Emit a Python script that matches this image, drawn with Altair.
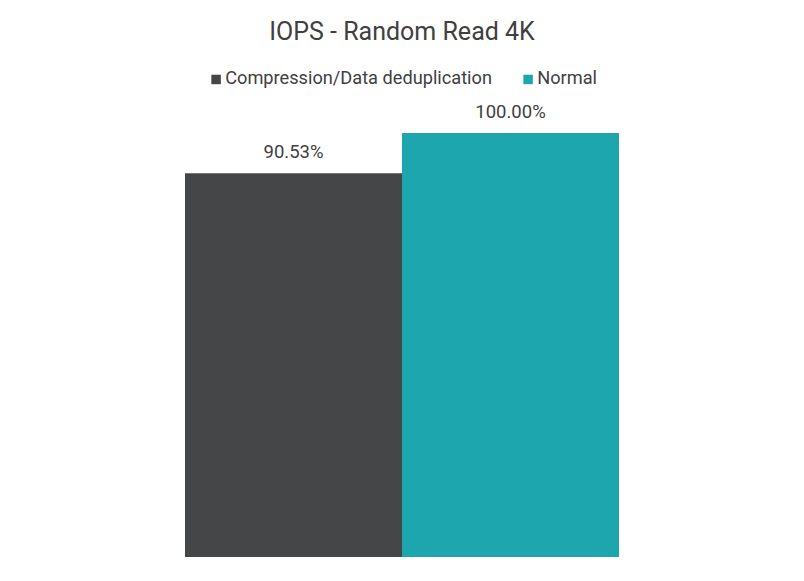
import altair as alt
import pandas as pd

categories = ["Compression/Data deduplication", "Normal"]
values = [90.53, 100.00]
labels = ["90.53%", "100.00%"]
colors = ["#454648", "#1ea6ae"]

df = pd.DataFrame({"series": categories, "value": values, "label": labels})

base = alt.Chart(df).encode(
    x=alt.X("series:N", sort=categories, axis=None,
            scale=alt.Scale(paddingInner=0, paddingOuter=0)),
    y=alt.Y("value:Q", axis=None, scale=alt.Scale(domain=[0, 100], nice=False, zero=True)),
)

bars = base.mark_bar(strokeWidth=0).encode(
    color=alt.Color("series:N", sort=categories,
                    scale=alt.Scale(domain=categories, range=colors),
                    legend=alt.Legend(
                        title=None, orient="none", direction="horizontal",
                        legendX=22, legendY=-63,
                        symbolType="square", symbolSize=90, symbolStrokeWidth=0,
                        labelFont="Roboto", labelFontSize=18.2, labelColor="#404040",
                        labelOffset=0, columnPadding=27, labelLimit=400,
                    )),
)

text = base.mark_text(font="Roboto", fontSize=18.5, color="#404040",
                      baseline="alphabetic", dy=-15).encode(
    text="label:N"
)

chart = (bars + text).properties(
    width=434,
    height=424,
    padding={"left": 177, "top": 125, "right": 177, "bottom": 8},
    autosize="none",
    title=alt.TitleParams("IOPS - Random Read 4K", font="Roboto", fontSize=25,
                          fontWeight="normal", color="#404040", anchor="middle", offset=25),
).configure_view(stroke=None)

chart.save("out.html", embed_options={"renderer": "svg", "actions": False})
